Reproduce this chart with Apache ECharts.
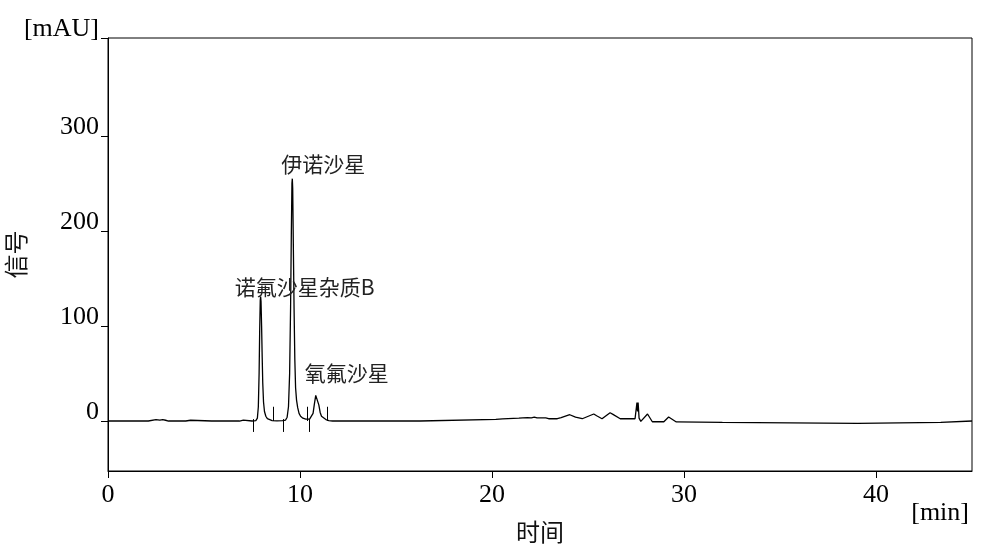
<!DOCTYPE html>
<html><head><meta charset="utf-8">
<script src="https://cdn.jsdelivr.net/npm/echarts@6/dist/echarts.min.js"></script>
<style>html,body{margin:0;padding:0;background:#fff}#c{width:981px;height:546px}</style>
</head><body><div id="c"></div>
<script>
// retention time (min)
const times = [
  0, 2.1, 2.2, 2.5, 2.7, 2.85, 3.0, 3.15, 4.05, 4.15, 4.3, 4.4, 5.4, 5.47, 5.55, 6.1, 6.18, 6.27,
  6.85, 6.92, 7.05, 7.15, 7.5, 7.7, 7.78, 7.83, 7.87, 7.9, 7.93, 7.95, 7.97, 8.0, 8.03, 8.06, 8.1,
  8.15, 8.22, 8.3, 8.4, 8.55, 8.8, 9.1, 9.25, 9.33, 9.4, 9.46, 9.51, 9.55, 9.58, 9.6, 9.62, 9.65,
  9.69, 9.73, 9.77, 9.82, 9.88, 9.95, 10.03, 10.15, 10.3, 10.5, 10.6, 10.68, 10.75, 10.82, 10.87,
  10.92, 10.98, 11.05, 11.12, 11.2, 11.35, 11.5, 11.7, 16.25, 16.3, 20.2, 20.3, 20.55, 20.65, 21.4,
  21.5, 21.6, 21.85, 21.95, 22.05, 22.2, 22.35, 22.8, 22.95, 23.4, 23.6, 24.05, 24.35, 24.7, 25.3,
  25.45, 25.73, 26.15, 26.3, 26.68, 27.45, 27.52, 27.55, 27.58, 27.61, 27.66, 27.75, 28.1, 28.35,
  28.95, 29.2, 29.6, 32.0, 32.02, 39.05, 39.07, 43.37, 43.4, 45
];
// detector signal (mAU)
const signal = [
  0, 0, 1.2, 1.5, 1.0, 1.5, 0.8, 0, 0, 1.2, 0.8, 0, 0, 1.0, 0, 0, 1.2, 0,
  0, 1.0, 1.0, 0, 0, 0.5, 3, 15, 50, 95, 127, 131, 126, 100, 68, 40, 20,
  10, 5, 2.5, 1.2, 0.5, 0.2, 0.3, 1, 4, 15, 50, 120, 200, 250, 255, 245, 190,
  120, 65, 35, 22, 14, 8, 5, 3, 2, 2, 3, 8, 18, 27, 29,
  26, 17, 9, 5, 3, 1.5, 0.5, 0, 0, 1.8, 1.8, 2.3, 2.3, 3.0, 3.0,
  4.5, 3.3, 3.5, 4.5, 3.4, 4.2, 3.3, 3.3, 2.4, 2.4, 3.5, 6.6, 4.0, 2.4, 7.4,
  5.5, 2.4, 8.7, 7.0, 2.4, 2.4, 2.4, 19.5, 10, 19.5, 3, -0.4, 7.4, -0.8,
  -0.8, 4.2, -1.0, -1.5, -2.5, -2.5, -1.5, -1.5, 0, 0
];
// integration events: -1 = peak start (down mark), 1 = peak end (up mark)
const eventTimes = [7.57, 8.61, 9.13, 10.38, 10.48, 11.42];
const eventDirs = [-1, 1, -1, 1, -1, 1];
// peak annotations
const peakNames = ['诺氟沙星杂质B', '伊诺沙星', '氧氟沙星'];
const peakTimes = [7.95, 9.6, 10.87];
const peakHeights = [131, 255, 29];
// axes
const xTicks = [0, 10, 20, 30, 40];
const yTicks = [0, 100, 200, 300];
const xMin = 0, xMax = 45, yMin = -52.6, yMax = 403;

const labelOffsets = [[44, -9], [31, -15], [30, -20]];

const traceData = times.map((t, i) => [t, signal[i]]);
const eventLines = eventTimes.map((t, i) => {
  const a = eventDirs[i] < 0 ? 2 : 0;
  const b = eventDirs[i] < 0 ? -11.5 : 15;
  return [{ coord: [t, a] }, { coord: [t, b] }];
});
const peakPoints = peakNames.map((n, i) => ({
  name: n,
  coord: [peakTimes[i], peakHeights[i]],
  label: { offset: labelOffsets[i] }
}));

const serif = 'Liberation Serif';
const cjk = 'Noto Sans CJK SC';
const chart = echarts.init(document.getElementById('c'), null, { renderer: 'canvas' });
chart.setOption({
  animation: false,
  backgroundColor: '#fff',
  grid: { left: 108, right: 9, top: 38, bottom: 75, show: true, borderColor: '#000', borderWidth: 1,
          containLabel: false, outerBoundsMode: 'none' },
  xAxis: {
    type: 'value', min: xMin, max: xMax,
    name: '时间', nameLocation: 'middle', nameGap: 49, nameMoveOverlap: false,
    nameTextStyle: { fontFamily: cjk, fontSize: 24, color: '#111' },
    axisLine: { show: true, onZero: false, lineStyle: { color: '#000', width: 1 } },
    axisTick: { show: true, length: 7, customValues: xTicks, lineStyle: { color: '#000' } },
    axisLabel: { customValues: xTicks, margin: 11, fontFamily: serif, fontSize: 26, color: '#000' },
    splitLine: { show: false }
  },
  yAxis: {
    type: 'value', min: yMin, max: yMax,
    name: '信号', nameLocation: 'middle', nameGap: 80, nameRotate: 90, nameMoveOverlap: false,
    nameTextStyle: { fontFamily: cjk, fontSize: 24, color: '#111' },
    axisLine: { show: true, onZero: false, lineStyle: { color: '#000', width: 1 } },
    axisTick: { show: true, length: 7, customValues: yTicks.concat([yMax]), lineStyle: { color: '#000' } },
    axisLabel: {
      customValues: yTicks.concat([yMax]), margin: 9, fontFamily: serif, fontSize: 26, color: '#000',
      verticalAlign: 'bottom', lineHeight: 18,
      formatter: v => (v === yMax ? '[mAU]' : String(v))
    },
    splitLine: { show: false }
  },
  graphic: [{
    type: 'text', right: 12, top: 500,
    style: { text: '[min]', font: '26px "Liberation Serif"', fill: '#000' }
  }],
  series: [{
    type: 'line', data: traceData, showSymbol: false, symbol: 'none',
    lineStyle: { color: '#000', width: 1.3 }, silent: true,
    markLine: {
      silent: true, symbol: 'none', label: { show: false },
      lineStyle: { color: '#000', width: 1, type: 'solid' },
      data: eventLines
    },
    markPoint: {
      symbol: 'circle', symbolSize: 0, silent: true,
      label: { show: true, position: 'inside', formatter: '{b}', fontFamily: cjk, fontSize: 21, color: '#222' },
      data: peakPoints
    }
  }]
});
</script>
</body></html>
